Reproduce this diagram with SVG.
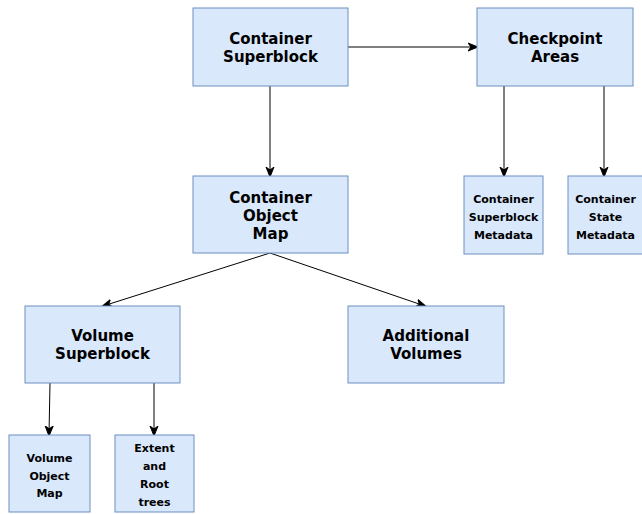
<svg xmlns="http://www.w3.org/2000/svg" width="642" height="514" viewBox="0 0 642 514">
<defs>
<style>
.n{fill:#dae8fc;stroke:#6c8ebf;stroke-width:1}
.t{font-family:"DejaVu Sans",Verdana,sans-serif;font-weight:bold;fill:#000;text-anchor:middle}
.L{font-size:15px}
.S{font-size:11px}
.e{stroke:#000;stroke-width:1;fill:none;marker-end:url(#a)}
</style>
<marker id="a" viewBox="0 0 10 10" refX="9" refY="5" markerWidth="10" markerHeight="10" markerUnits="userSpaceOnUse" orient="auto">
<path d="M0,1 L10,5 L0,9 L3,5 Z" fill="#000" stroke="#000" stroke-width="1"/>
</marker>
</defs>
<rect width="642" height="514" fill="#fff"/>
<g id="edges">
<path class="e" d="M348,47 L477,47"/>
<path class="e" d="M270,86 L270,176"/>
<path class="e" d="M504,86 L504,176"/>
<path class="e" d="M604,86 L604,176"/>
<path class="e" d="M270,253 L103,306"/>
<path class="e" d="M270,253 L425,306"/>
<path class="e" d="M50,383 L49,435"/>
<path class="e" d="M154,383 L154,435"/>
</g>
<g id="container-superblock">
<rect class="n" x="193" y="8" width="155" height="78"/>
<text class="t L" x="270.5" y="44">Container</text>
<text class="t L" x="270.5" y="62">Superblock</text>
</g>
<g id="checkpoint-areas">
<rect class="n" x="477" y="8" width="156" height="78"/>
<text class="t L" x="555" y="44">Checkpoint</text>
<text class="t L" x="555" y="62">Areas</text>
</g>
<g id="container-object-map">
<rect class="n" x="193" y="176" width="155" height="77"/>
<text class="t L" x="270.5" y="203">Container</text>
<text class="t L" x="270.5" y="221">Object</text>
<text class="t L" x="270.5" y="239">Map</text>
</g>
<g id="container-superblock-metadata">
<rect class="n" x="464" y="176" width="79" height="78"/>
<text class="t S" x="503.5" y="203">Container</text>
<text class="t S" x="503.5" y="221">Superblock</text>
<text class="t S" x="503.5" y="239">Metadata</text>
</g>
<g id="container-state-metadata">
<rect class="n" x="568" y="176" width="78" height="78"/>
<text class="t S" x="605.5" y="203">Container</text>
<text class="t S" x="605.5" y="221">State</text>
<text class="t S" x="605.5" y="239">Metadata</text>
</g>
<g id="volume-superblock">
<rect class="n" x="25" y="306" width="155" height="77"/>
<text class="t L" x="102.5" y="341">Volume</text>
<text class="t L" x="102.5" y="359">Superblock</text>
</g>
<g id="additional-volumes">
<rect class="n" x="348" y="306" width="156" height="77"/>
<text class="t L" x="426" y="341">Additional</text>
<text class="t L" x="426" y="359">Volumes</text>
</g>
<g id="volume-object-map">
<rect class="n" x="9" y="435" width="81" height="77"/>
<text class="t S" x="49.5" y="462">Volume</text>
<text class="t S" x="49.5" y="480">Object</text>
<text class="t S" x="49.5" y="497">Map</text>
</g>
<g id="extent-root-trees">
<rect class="n" x="115" y="435" width="79" height="77"/>
<text class="t S" x="154.5" y="452">Extent</text>
<text class="t S" x="154.5" y="470">and</text>
<text class="t S" x="154.5" y="488">Root</text>
<text class="t S" x="154.5" y="506">trees</text>
</g>
</svg>
